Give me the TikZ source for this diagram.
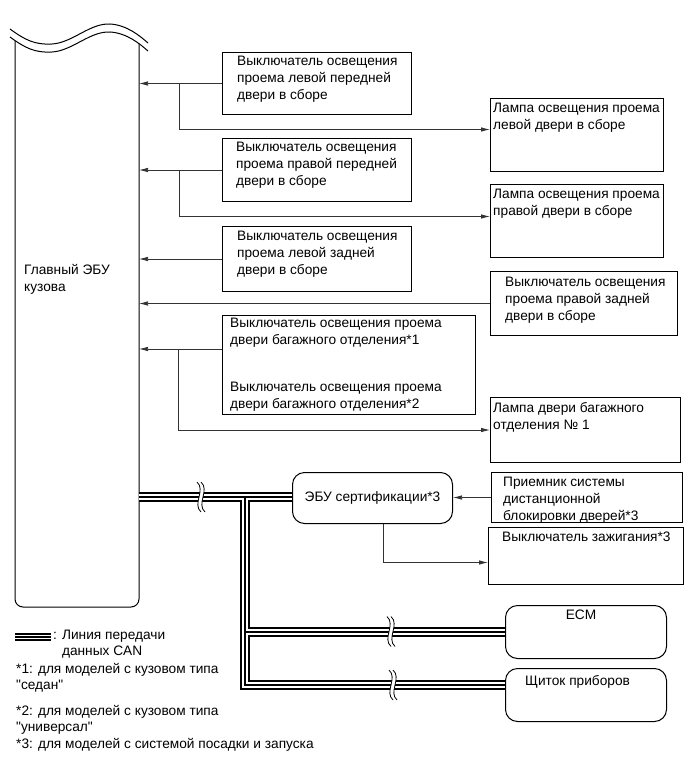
\documentclass[tikz,border=0pt]{standalone}
\usepackage{fontspec}
\setmainfont{Liberation Sans}[Ligatures=TeXOff]
\usepackage{tikz}
\usetikzlibrary{positioning,arrows.meta}

\begin{document}
\begin{tikzpicture} [
    x=1pt, y=-1pt,
    font=\fontsize{13.7}{17}\selectfont,
    box/.style={rectangle, draw, line width=1pt, inner sep=0pt, anchor=north west},
    unit/.style={box, rounded corners=12pt},
    txt/.style={inner sep=0pt, anchor=north west, align=left},
    wire/.style={draw=black!80, line width=0.75pt, -{Latex[length=9pt,width=4.5pt]}},
    busa/.style={line width=10.5pt, line join=miter},
    busb/.style={line width=6.5pt, white, line join=miter},
    busc/.style={line width=2.2pt, line join=miter},
    brk/.pic={
        \fill[white] (-3,-15) .. controls (6,-7) and (-8,7) .. (1,15) -- (5,15) .. controls (-4,7) and (10,-7) .. (1,-15) -- cycle;
        \draw[line width=0.8pt] (-3,-15) .. controls (6,-7) and (-8,7) .. (1,15);
        \draw[line width=0.8pt] (1,-15) .. controls (10,-7) and (-4,7) .. (5,15);
    }
]
\useasboundingbox (0,0) rectangle (691,757);

% Main body ECU
\node[inner sep=0pt, outer sep=0pt, minimum width=124pt, minimum height=566pt, anchor=north west] (body) at (15,41) {};
\draw[line width=1pt, rounded corners=8pt] (body.north west) -- (body.south west) -- (body.south east) -- ([yshift=-3pt]body.north east);
\draw[line width=1pt] (10,29) .. controls (25,40) and (35,45) .. (52,44) .. controls (72,43) and (90,23) .. (110,24) .. controls (127,25) and (140,36) .. (148,43);
\draw[line width=1pt] (10,37) .. controls (25,48) and (35,53) .. (52,52) .. controls (72,51) and (90,31) .. (110,32) .. controls (127,33) and (140,44) .. (148,51);
\node[txt] (bodytxt) at (24,264) {Главный ЭБУ\\кузова};

% Switches and lamps
\node[box, minimum width=189pt, minimum height=62pt] (swlf) at (222,52) {};
\node[box, minimum width=189pt, minimum height=63pt, below=23pt of swlf] (swrf) {};
\node[box, minimum width=189pt, minimum height=65pt, below=24pt of swrf] (swlr) {};
\node[box, minimum width=253pt, minimum height=99pt] (swtr) at (222,315) {};
\node[box, minimum width=173pt, minimum height=73pt] (lampl) at (490,98) {};
\node[box, minimum width=173pt, minimum height=73pt, below=12pt of lampl] (lampr) {};
\node[box, minimum width=187pt, minimum height=64pt] (swrr) at (490,271) {};
\node[box, minimum width=190pt, minimum height=65pt] (lamptr) at (490,397) {};
\node[box, minimum width=191pt, minimum height=50pt] (rcv) at (491,472) {};
\node[box, minimum width=195pt, minimum height=57pt] (ign) at (488,527) {};
\node[unit, minimum width=160pt, minimum height=51pt] (cert) at (292,472) {ЭБУ сертификации*3};
\node[unit, minimum width=161pt, minimum height=53pt] (ecm) at (505,605) {};
\node[unit, minimum width=161pt, minimum height=53pt, below=9pt of ecm] (clus) {};

\node[txt] (swlftxt) at ([shift={(15,4)}]swlf.north west) {Выключатель освещения\\проема левой передней\\двери в сборе};
\node[txt] (swrftxt) at ([shift={(14,4)}]swrf.north west) {Выключатель освещения\\проема правой передней\\двери в сборе};
\node[txt] (swlrtxt) at ([shift={(15,5)}]swlr.north west) {Выключатель освещения\\проема левой задней\\двери в сборе};
\node[txt] (swtrtxt) at ([shift={(8,3)}]swtr.north west) {Выключатель освещения проема\\двери багажного отделения*1\\[30pt]Выключатель освещения проема\\двери багажного отделения*2};
\node[txt] (lampltxt) at ([shift={(3,5)}]lampl.north west) {Лампа освещения проема\\левой двери в сборе};
\node[txt] (lamprtxt) at ([shift={(3,5)}]lampr.north west) {Лампа освещения проема\\правой двери в сборе};
\node[txt] (swrrtxt) at ([shift={(15,6)}]swrr.north west) {Выключатель освещения\\проема правой задней\\двери в сборе};
\node[txt] (lamptrtxt) at ([shift={(3,5)}]lamptr.north west) {Лампа двери багажного\\отделения № 1};
\node[txt] (rcvtxt) at ([shift={(12,5)}]rcv.north west) {Приемник системы\\дистанционной\\блокировки дверей*3};
\node[txt] (igntxt) at ([shift={(14,5)}]ign.north west) {Выключатель зажигания*3};
\node[anchor=north, inner sep=0pt] (ecmtxt) at ([shift={(-5,5)}]ecm.north) {ECM};
\node[txt] (clustxt) at ([shift={(20,7)}]clus.north west) {Щиток приборов};

% Connections
\coordinate (trtap) at ([yshift=16pt]swtr.west);
\draw[wire] (swlf.west) -- (swlf.west -| body.east);
\draw[wire] ([xshift=-43pt]swlf.west) |- ([yshift=5.5pt]lampl.west);
\draw[wire] (swrf.west) -- (swrf.west -| body.east);
\draw[wire] ([xshift=-43pt]swrf.west) |- ([yshift=4.5pt]lampr.west);
\draw[wire] (swlr.west) -- (swlr.west -| body.east);
\draw[wire] (swrr.west) -- (swrr.west -| body.east);
\draw[wire] (trtap) -- (trtap -| body.east);
\draw[wire] ([xshift=-44pt]trtap) |- (lamptr.west);
\draw[wire] (rcv.west) -- (rcv.west -| cert.east);
\draw[wire] ([xshift=11pt]cert.south) |- ([yshift=-6.5pt]ign.west);

% CAN bus
\coordinate (tee) at (245,497);
\coordinate (bend) at (245,685);
\foreach \layer in {busa,busb,busc} {
    \draw[\layer] (body.east |- tee) -- (cert.west |- tee);
    \draw[\layer] (tee) -- (bend) -- (bend -| clus.west);
    \draw[\layer] (tee |- ecm.west) -- (ecm.west);
}
\pic at (200,497) {brk};
\pic at (390,631.5) {brk};
\pic at (392,685) {brk};

% Labels
\coordinate (keya) at (15,637);
\coordinate (keyb) at (51,637);
\foreach \w/\c in {7.5/black,4.5/white,1.5/black}
    \draw[line width=\w pt, \c] (keya) -- (keyb);
\node[txt, font=\fontsize{13.7}{16}\selectfont] (keytxt) at (53,630) {: Линия передачи\\\phantom{: }данных CAN};
\node[txt, font=\fontsize{13.7}{16}\selectfont] (fn1) at (16,663) {*1: для моделей с кузовом типа\\"седан"};
\node[txt, font=\fontsize{13.7}{16}\selectfont] (fn2) at (16,705) {*2: для моделей с кузовом типа\\"универсал"};
\node[txt] (fn3) at (16,738) {*3: для моделей с системой посадки и запуска};

\end{tikzpicture}
\end{document}
